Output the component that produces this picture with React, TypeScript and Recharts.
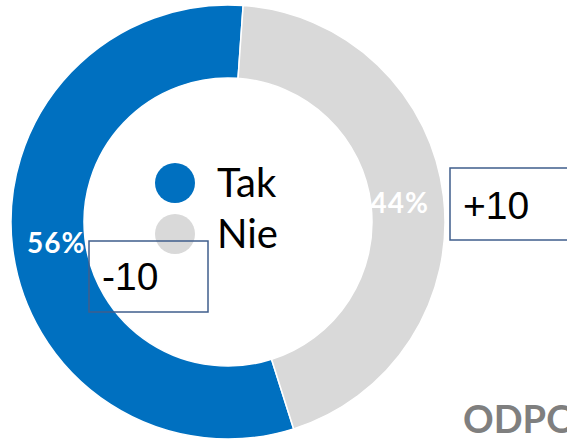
import { Legend, Pie, PieChart, Cell } from 'recharts'

const categories = ['Tak', 'Nie']
const shares = [56, 44]
const changes = ['-10', '+10']
const colors = ['#0070C0', '#D9D9D9']
const footer = 'ODPO'

const data = categories.map((name, i) => ({ name, value: shares[i] }))

const RADIAN = Math.PI / 180

const renderLabel = (props: any) => {
  const { cx, cy, midAngle, value } = props
  const r = 173
  const x = cx + r * Math.cos(-midAngle * RADIAN)
  const y = cy + r * Math.sin(-midAngle * RADIAN)
  return (
    <text
      x={x}
      y={y}
      fill="#ffffff"
      textAnchor="middle"
      dominantBaseline="central"
      fontFamily="Lato"
      fontWeight={700}
      fontSize={28}
      letterSpacing={1}
    >
      {`${value}%`}
    </text>
  )
}

const renderLegend = () => (
  <div style={{ fontFamily: 'Lato', fontSize: 40, color: '#000' }}>
    {categories.map((name, i) => (
      <div key={name} style={{ display: 'flex', alignItems: 'center', height: 51, lineHeight: '51px' }}>
        <span
          style={{
            display: 'inline-block',
            width: 40,
            height: 40,
            borderRadius: '50%',
            background: colors[i],
            marginRight: 22,
          }}
        />
        <span>{name}</span>
      </div>
    ))}
  </div>
)

const boxStyle = { fill: 'none', stroke: '#3F5E8C', strokeWidth: 1.5 }
const boxText = { fontFamily: 'Liberation Sans', fontSize: 39, fill: '#000' }

const App = () => {
  return (
    <div style={{ position: 'absolute', left: 0, top: 0, width: 567, height: 439, overflow: 'hidden', background: '#fff' }}>
      <PieChart width={567} height={439} margin={{ top: 0, right: 0, bottom: 0, left: 0 }}>
        <Pie
          data={data}
          dataKey="value"
          nameKey="name"
          cx={228}
          cy={222}
          innerRadius={144}
          outerRadius={217}
          startAngle={86}
          endAngle={446}
          stroke="#ffffff"
          strokeWidth={1.5}
          label={renderLabel}
          labelLine={false}
          isAnimationActive={false}
        >
          {data.map((d, i) => (
            <Cell key={d.name} fill={colors[i]} />
          ))}
        </Pie>
        <Legend
          content={renderLegend}
          wrapperStyle={{ position: 'absolute', left: 155, top: 157, width: 'auto' }}
        />
      </PieChart>
      <svg
        width={567}
        height={439}
        style={{ position: 'absolute', left: 0, top: 0, pointerEvents: 'none' }}
      >
        <rect x={89} y={241} width={119} height={71} style={boxStyle} />
        <text x={102} y={290} style={boxText}>{changes[0]}</text>
        <rect x={450} y={168} width={130} height={72} style={boxStyle} />
        <text x={463} y={219} style={boxText}>{changes[1]}</text>
        <text
          x={463}
          y={433}
          fontFamily="Lato"
          fontWeight={700}
          fontSize={38}
          fill="#7F7F7F"
        >
          {footer}
        </text>
      </svg>
    </div>
  )
}

export default App
